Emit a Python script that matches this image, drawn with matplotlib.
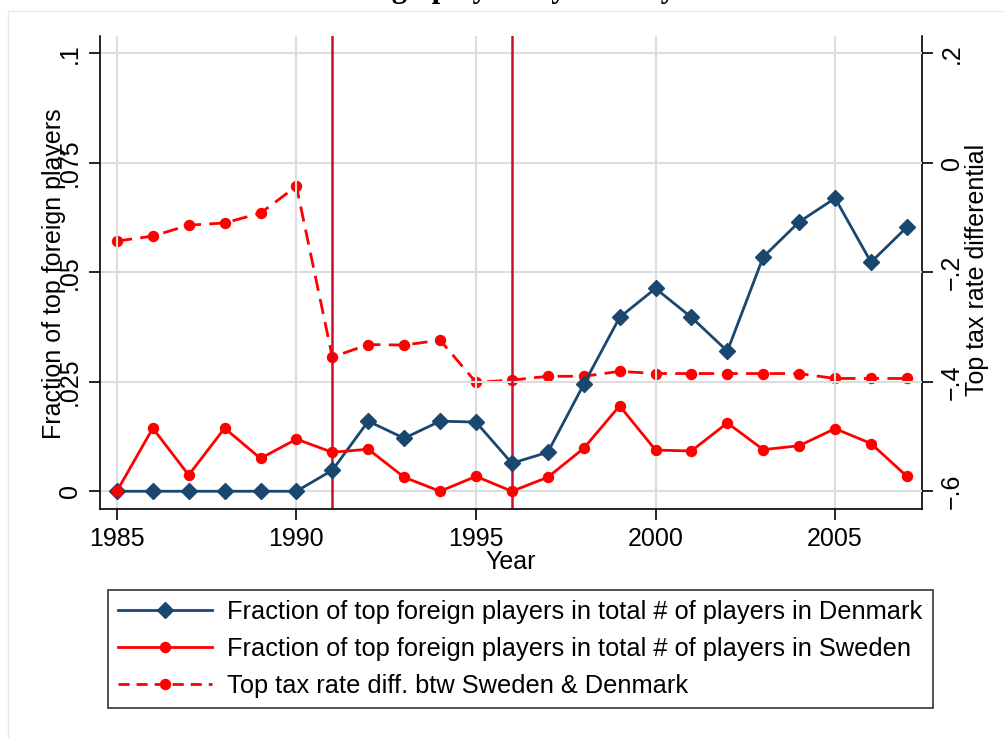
import matplotlib.pyplot as plt
from matplotlib.patches import Rectangle
from matplotlib.lines import Line2D

# data
years = list(range(1985, 2008))
denmark = [0, 0, 0, 0, 0, 0, 0.0048, 0.016, 0.0121, 0.016, 0.0158, 0.0064,
           0.0089, 0.0244, 0.0397, 0.0463, 0.0397, 0.032, 0.0535, 0.0615,
           0.0669, 0.0523, 0.0603]
sweden = [0, 0.0144, 0.0037, 0.0144, 0.0075, 0.0119, 0.0089, 0.0096, 0.0032,
          0, 0.0034, 0, 0.0032, 0.0098, 0.0195, 0.0094, 0.0092, 0.0156,
          0.0095, 0.0104, 0.0143, 0.0109, 0.0034]
tax_diff = [-0.143, -0.134, -0.114, -0.110, -0.092, -0.043, -0.355, -0.332,
            -0.333, -0.324, -0.401, -0.397, -0.390, -0.390, -0.381, -0.385,
            -0.385, -0.385, -0.385, -0.385, -0.394, -0.394, -0.394]
reform_years = [1991, 1996]

left_ticks = [0, 0.025, 0.05, 0.075, 0.1]
left_labels = ['0', '.025', '.05', '.075', '.1']
right_ticks = [-0.6, -0.4, -0.2, 0, 0.2]
right_labels = ['\u2212.6', '\u2212.4', '\u2212.2', '0', '.2']
x_ticks = [1985, 1990, 1995, 2000, 2005]

navy = '#1a476f'
red = '#ff0000'
cranberry = '#c8102e'
grid_col = '#dddddd'
fs = 18

plt.rcParams['font.family'] = ['Liberation Sans', 'DejaVu Sans']

fig = plt.figure(figsize=(10.05, 7.38), dpi=100)
ax = fig.add_axes([0.0995, 0.31, 0.8179, 0.641])
ax2 = ax.twinx()

ax.set_xlim(1984.53, 2007.42)
ax.set_ylim(-0.0041, 0.1039)
ax2.set_ylim(-0.6 - 8 * 0.0041, -0.6 + 8 * 0.1039)

# grid
for t in left_ticks:
    ax.axhline(t, color=grid_col, lw=1.5, zorder=0)
for t in x_ticks:
    ax.axvline(t, color=grid_col, lw=1.5, zorder=0)

for yr in reform_years:
    ax.axvline(yr, color=cranberry, lw=1.8, zorder=1)

ax.plot(years, denmark, color=navy, lw=2.0, marker='D', ms=8.5,
        mec=navy, zorder=4)
ax.plot(years, sweden, color=red, lw=2.0, marker='o', ms=7.2, zorder=5)
ax2.plot(years, tax_diff, color=red, lw=2.0, marker='o', ms=7.2,
         dashes=(5.5, 3), zorder=5)

ax.set_zorder(ax2.get_zorder() + 1)
ax.patch.set_visible(False)

ax.set_xticks(x_ticks)
ax.set_xticklabels([str(t) for t in x_ticks], fontsize=fs)
ax.set_yticks(left_ticks)
ax.set_yticklabels(left_labels, fontsize=fs, rotation=90, va='center')
ax2.set_yticks(right_ticks)
ax2.set_yticklabels(right_labels, fontsize=fs, rotation=90, va='center')

for a in (ax, ax2):
    a.tick_params(direction='out', length=8, width=1.2, color='black', pad=5)
    for s in a.spines.values():
        s.set_linewidth(1.2)
    a.spines['top'].set_visible(False)
ax.spines['right'].set_visible(False)
ax2.spines['left'].set_visible(False)
ax2.spines['bottom'].set_visible(False)

ax.set_xlabel('Year', fontsize=fs, labelpad=-1)

# axis titles placed like the reference (left one overlaps the tick labels)
fig.text(54 / 1005, 1 - 274 / 738, 'Fraction of top foreign players',
         rotation=90, ha='center', va='center', fontsize=fs)
fig.text(977 / 1005, 1 - 270 / 738, 'Top tax rate differential',
         rotation=90, ha='center', va='center', fontsize=fs)

# faint outer frame of the graph region
fig.patches.append(Rectangle((8 / 1005, -0.1), 1.2, 1.1 - 11 / 738,
                             transform=fig.transFigure, fill=False,
                             edgecolor='#e4ecee', lw=1))

# title mostly cut off at top of the image
fig.text(0.497, 1 + 3 / 738, 'Foreign players by country', ha='center',
         va='baseline', fontsize=22, fontweight='bold',
         family='Liberation Serif')

handles = [
    Line2D([], [], color=navy, lw=2.0, marker='D', ms=8.5),
    Line2D([], [], color=red, lw=2.0, marker='o', ms=7.2),
    Line2D([], [], color=red, lw=2.0, marker='o', ms=7.2, dashes=(4, 2.5)),
]
labels = [
    'Fraction of top foreign players in total # of players in Denmark',
    'Fraction of top foreign players in total # of players in Sweden',
    'Top tax rate diff. btw Sweden & Denmark',
]
leg = fig.legend(handles, labels, loc='upper left',
                 bbox_to_anchor=(108 / 1005, 1 - 590 / 738), fontsize=18.3,
                 frameon=True, fancybox=False, handlelength=3.7,
                 labelspacing=0.5, borderpad=0.4, handletextpad=0.6,
                 borderaxespad=0)
leg.get_frame().set_edgecolor('black')
leg.get_frame().set_linewidth(1.2)

fig.savefig('out.png', dpi=100)
